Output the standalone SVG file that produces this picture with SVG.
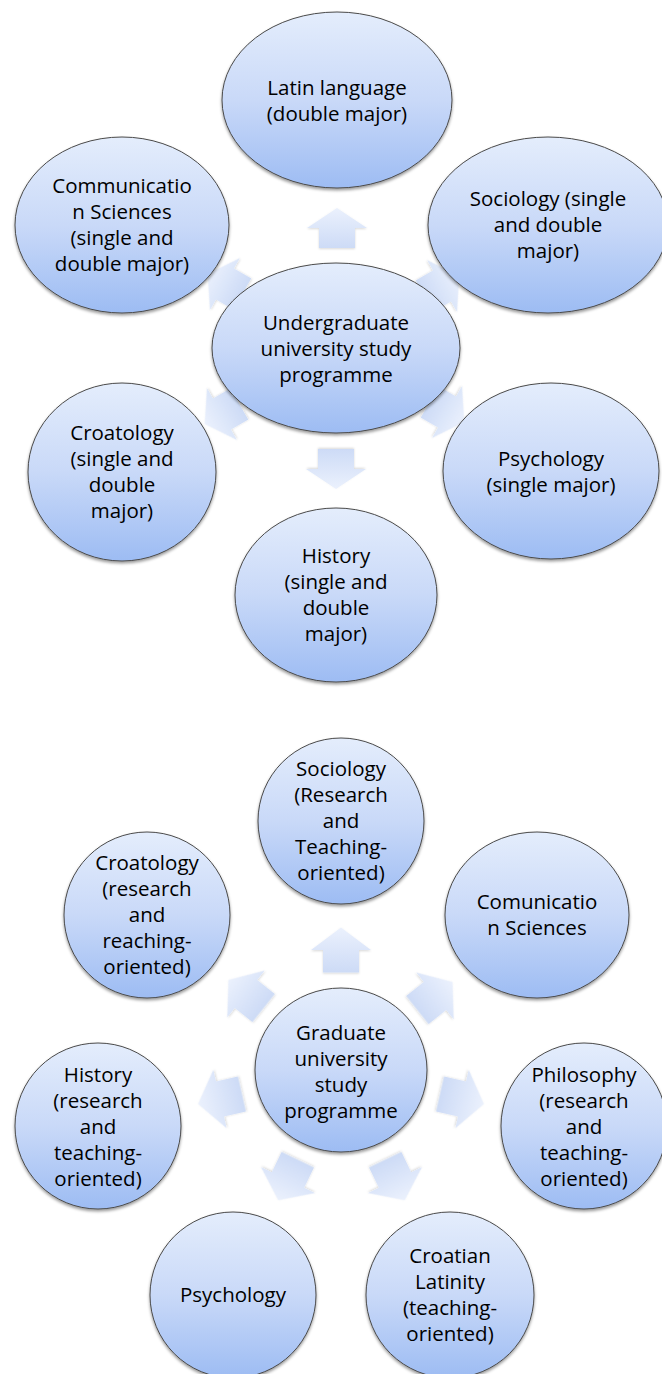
<svg xmlns="http://www.w3.org/2000/svg" width="662" height="1374" viewBox="0 0 662 1374">
  <defs>
    <linearGradient id="nodeFill" x1="0" y1="0" x2="0" y2="1">
      <stop offset="0" stop-color="#e4edfc"/>
      <stop offset="0.5" stop-color="#c9d9f8"/>
      <stop offset="1" stop-color="#9dbcf3"/>
    </linearGradient>
    <linearGradient id="arrowFill" x1="0" y1="0" x2="0" y2="1">
      <stop offset="0" stop-color="#ebf1fd"/>
      <stop offset="1" stop-color="#cddbf6"/>
    </linearGradient>
    <filter id="shadow" x="-10%" y="-10%" width="120%" height="125%">
      <feDropShadow dx="0" dy="2" stdDeviation="1.5" flood-color="#000" flood-opacity="0.4"/>
    </filter>
    <filter id="arrowShadow" x="-20%" y="-20%" width="140%" height="140%">
      <feDropShadow dx="0" dy="1" stdDeviation="1" flood-color="#000" flood-opacity="0.15"/>
    </filter>
    <!-- block arrow pointing up, centred on the origin -->
    <path id="arrow" d="M0,-20 L30,0 L18,0 L18,20 L-18,20 L-18,0 L-30,0 Z"/>
  </defs>
  <style>
    .node ellipse { fill: url(#nodeFill); stroke: #4a4a4a; stroke-width: 1; filter: url(#shadow); }
    .node text { font-family: "Open Sans", "Liberation Sans", sans-serif; font-size: 20.5px; fill: #000; text-anchor: middle; }
    .conn use { fill: url(#arrowFill); filter: url(#arrowShadow); }
  </style>

  <!-- connectors: undergraduate programme -->
  <g id="connectors-undergraduate" class="conn">
    <use href="#arrow" transform="translate(337,228)"/>
    <use href="#arrow" transform="translate(336,469) rotate(180)"/>
    <use href="#arrow" transform="translate(225,284) rotate(-60)"/>
    <use href="#arrow" transform="translate(442,286) rotate(60)"/>
    <use href="#arrow" transform="translate(222,414) rotate(-120)"/>
    <use href="#arrow" transform="translate(447,412) rotate(120)"/>
  </g>

  <!-- connectors: graduate programme -->
  <g id="connectors-graduate" class="conn">
    <use href="#arrow" transform="translate(341,950) scale(1,1.12)"/>
    <use href="#arrow" transform="translate(246,994) rotate(-51.43) scale(1,1.12)"/>
    <use href="#arrow" transform="translate(435,996) rotate(51.43) scale(1,1.12)"/>
    <use href="#arrow" transform="translate(220,1099) rotate(-102.86) scale(1,1.12)"/>
    <use href="#arrow" transform="translate(462,1099) rotate(102.86) scale(1,1.12)"/>
    <use href="#arrow" transform="translate(288,1180) rotate(-154.29) scale(1,1.12)"/>
    <use href="#arrow" transform="translate(395,1180) rotate(154.29) scale(1,1.12)"/>
  </g>

  <!-- undergraduate nodes -->
  <g id="ug-latin" class="node">
    <ellipse cx="337" cy="100" rx="115" ry="88"/>
    <text x="337" y="95">Latin language</text>
    <text x="337" y="121">(double major)</text>
  </g>
  <g id="ug-communication" class="node">
    <ellipse cx="122" cy="225" rx="107" ry="88"/>
    <text x="122" y="193">Communicatio</text>
    <text x="122" y="219">n Sciences</text>
    <text x="122" y="245">(single and</text>
    <text x="122" y="271">double major)</text>
  </g>
  <g id="ug-sociology" class="node">
    <ellipse cx="548" cy="225" rx="120" ry="88"/>
    <text x="548" y="206">Sociology (single</text>
    <text x="548" y="232">and double</text>
    <text x="548" y="258">major)</text>
  </g>
  <g id="ug-centre" class="node">
    <ellipse cx="336" cy="348" rx="124" ry="85"/>
    <text x="336" y="330">Undergraduate</text>
    <text x="336" y="356">university study</text>
    <text x="336" y="382">programme</text>
  </g>
  <g id="ug-croatology" class="node">
    <ellipse cx="122" cy="472" rx="94" ry="89"/>
    <text x="122" y="440">Croatology</text>
    <text x="122" y="466">(single and</text>
    <text x="122" y="492">double</text>
    <text x="122" y="518">major)</text>
  </g>
  <g id="ug-psychology" class="node">
    <ellipse cx="551" cy="471" rx="108" ry="88"/>
    <text x="551" y="466">Psychology</text>
    <text x="551" y="492">(single major)</text>
  </g>
  <g id="ug-history" class="node">
    <ellipse cx="336" cy="595" rx="101" ry="87"/>
    <text x="336" y="563">History</text>
    <text x="336" y="589">(single and</text>
    <text x="336" y="615">double</text>
    <text x="336" y="641">major)</text>
  </g>

  <!-- graduate nodes -->
  <g id="gr-sociology" class="node">
    <ellipse cx="341" cy="821" rx="83" ry="83"/>
    <text x="341" y="776">Sociology</text>
    <text x="341" y="802">(Research</text>
    <text x="341" y="828">and</text>
    <text x="341" y="854">Teaching-</text>
    <text x="341" y="880">oriented)</text>
  </g>
  <g id="gr-croatology" class="node">
    <ellipse cx="147" cy="915" rx="83" ry="83"/>
    <text x="147" y="870">Croatology</text>
    <text x="147" y="896">(research</text>
    <text x="147" y="922">and</text>
    <text x="147" y="948">reaching-</text>
    <text x="147" y="974">oriented)</text>
  </g>
  <g id="gr-communication" class="node">
    <ellipse cx="537" cy="915" rx="92" ry="83"/>
    <text x="537" y="909">Comunicatio</text>
    <text x="537" y="935">n Sciences</text>
  </g>
  <g id="gr-centre" class="node">
    <ellipse cx="341" cy="1070" rx="86" ry="82"/>
    <text x="341" y="1040">Graduate</text>
    <text x="341" y="1066">university</text>
    <text x="341" y="1092">study</text>
    <text x="341" y="1118">programme</text>
  </g>
  <g id="gr-history" class="node">
    <ellipse cx="98" cy="1126" rx="83" ry="83"/>
    <text x="98" y="1082">History</text>
    <text x="98" y="1108">(research</text>
    <text x="98" y="1134">and</text>
    <text x="98" y="1160">teaching-</text>
    <text x="98" y="1186">oriented)</text>
  </g>
  <g id="gr-philosophy" class="node">
    <ellipse cx="584" cy="1126" rx="83" ry="83"/>
    <text x="584" y="1082">Philosophy</text>
    <text x="584" y="1108">(research</text>
    <text x="584" y="1134">and</text>
    <text x="584" y="1160">teaching-</text>
    <text x="584" y="1186">oriented)</text>
  </g>
  <g id="gr-psychology" class="node">
    <ellipse cx="233" cy="1295" rx="83" ry="83"/>
    <text x="233" y="1302">Psychology</text>
  </g>
  <g id="gr-latinity" class="node">
    <ellipse cx="450" cy="1295" rx="84" ry="83"/>
    <text x="450" y="1263">Croatian</text>
    <text x="450" y="1289">Latinity</text>
    <text x="450" y="1315">(teaching-</text>
    <text x="450" y="1341">oriented)</text>
  </g>
</svg>
